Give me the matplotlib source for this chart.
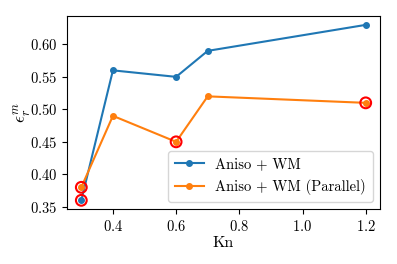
import matplotlib
matplotlib.use('Agg')
from matplotlib import pyplot as plt

# data
kn = [0.3, 0.4, 0.6, 0.7, 1.2]
aniso_wm = [0.36, 0.56, 0.55, 0.59, 0.63]
aniso_wm_par = [0.38, 0.49, 0.45, 0.52, 0.51]

# highlighted points (red rings)
ring_x = [0.3, 0.3, 0.6, 1.2]
ring_y = [0.36, 0.38, 0.45, 0.51]

plt.rcParams['font.family'] = 'serif'
plt.rcParams['font.serif'] = ['cmr10']
plt.rcParams['mathtext.fontset'] = 'cm'
plt.rcParams['axes.formatter.use_mathtext'] = True
plt.rcParams['font.size'] = 10.5

fig = plt.figure(figsize=(3.97, 2.64), dpi=100)
ax = fig.add_axes([0.169, 0.208, 0.788, 0.731])

ax.plot(kn, aniso_wm, marker='o', markersize=4, label='Aniso + WM')
ax.plot(kn, aniso_wm_par, marker='o', markersize=4, label='Aniso + WM (Parallel)')
ax.scatter(ring_x, ring_y, s=60, facecolors='none', edgecolors='red', linewidths=1.5, zorder=3)

ax.set_xlabel('Kn', fontsize=11.5, labelpad=2)
ax.set_ylabel(r'$\epsilon_r^m$', fontsize=12.5, labelpad=-2)
ax.set_xticks([0.4, 0.6, 0.8, 1.0, 1.2])
ax.legend(loc='lower right', labelspacing=0.55, borderpad=0.45)

fig.savefig('out.png', dpi=100)
